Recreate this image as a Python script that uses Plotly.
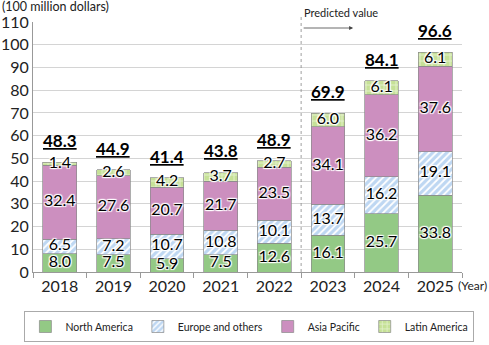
import plotly.graph_objects as go
import numpy as np

years = ["2018", "2019", "2020", "2021", "2022", "2023", "2024", "2025"]
north_america = [8.0, 7.5, 5.9, 7.5, 12.6, 16.1, 25.7, 33.8]
europe_others = [6.5, 7.2, 10.7, 10.8, 10.1, 13.7, 16.2, 19.1]
asia_pacific = [32.4, 27.6, 20.7, 21.7, 23.5, 34.1, 36.2, 37.6]
latin_america = [1.4, 2.6, 4.2, 3.7, 2.7, 6.0, 6.1, 6.1]
totals = [48.3, 44.9, 41.4, 43.8, 48.9, 69.9, 84.1, 96.6]

FONT = "Lato"
series = [
    ("North America", north_america, dict(color="#93c985")),
    ("Europe and others", europe_others,
     dict(color="white", pattern=dict(shape="/", fgcolor="#7dafe6", bgcolor="white", size=5, solidity=0.65))),
    ("Asia Pacific", asia_pacific, dict(color="#cc8fbf")),
    ("Latin America", latin_america,
     dict(color="#c6e197", pattern=dict(shape="+", fgcolor="white", bgcolor="#c6e197", size=6, solidity=0.3))),
]

fig = go.Figure()
for name, vals, mk in series:
    mk = dict(mk)
    mk["line"] = dict(color="#8a8a8a", width=0.7)
    fig.add_trace(go.Bar(x=years, y=vals, name=name, marker=mk, hoverinfo="skip"))

# segment labels at midpoints
base = np.zeros(len(years))
shadow = "1px 1px 1px white, -1px -1px 1px white, 1px -1px 1px white, -1px 1px 1px white, 0 0 2px white"
for name, vals, mk in series:
    v = np.array(vals)
    mid = base + v / 2
    fig.add_trace(go.Scatter(
        x=years, y=mid, mode="text", text=[f"{x:.1f}" for x in vals],
        textposition="middle center",
        textfont=dict(family=FONT, size=16, color="black", shadow=shadow),
        showlegend=False, hoverinfo="skip"))
    base = base + v

for i, t in enumerate(totals):
    fig.add_annotation(x=i, y=t, xref="x", yref="y", text=f"{t:.1f}", showarrow=False,
                       yanchor="bottom", yshift=9,
                       font=dict(family=FONT, size=17, color="black", weight="bold",
                                 lineposition="under"))

fig.add_shape(type="line", xref="x", yref="paper", x0=4.5, x1=4.5, y0=0, y1=1.028,
              line=dict(color="#888", width=0.8, dash="3px,3px"))
fig.add_annotation(xref="x", yref="paper", x=5.47, y=0.976, ax=-51, ay=0,
                   axref="pixel", ayref="pixel", text="", showarrow=True,
                   arrowhead=2, arrowsize=1, arrowwidth=0.8, arrowcolor="#444")
fig.add_annotation(xref="x", yref="paper", x=4.5, y=1.036, xanchor="left", yanchor="middle",
                   xshift=1, text="Predicted value", showarrow=False,
                   font=dict(family=FONT, size=11, color="#222"))
fig.add_annotation(xref="paper", yref="paper", x=-0.077, y=1.062, xanchor="left", yanchor="middle",
                   text="(100 million dollars)", showarrow=False,
                   font=dict(family=FONT, size=12.5, color="#222"))
fig.add_annotation(xref="paper", yref="paper", x=0.986, y=-0.052, xanchor="left", yanchor="middle",
                   text="(Year)", showarrow=False,
                   font=dict(family=FONT, size=12, color="#222"))

fig.update_layout(
    barmode="stack", bargap=0.37,
    width=489, height=345,
    margin=dict(l=33, r=27, t=22, b=73, autoexpand=False),
    paper_bgcolor="white", plot_bgcolor="white",
    font=dict(family=FONT, size=14, color="#222"),
    legend=dict(orientation="h", x=-0.02, xanchor="left",
                y=-0.156, yanchor="top",
                bordercolor="#aaa", borderwidth=1, font=dict(size=10.5),
                itemwidth=30, traceorder="normal"),
    xaxis=dict(type="category", range=[-0.5, 7.5], showline=True, linecolor="#999",
               ticks="outside", tickson="boundaries", ticklen=5, tickcolor="#999",
               tickfont=dict(size=16)),
    yaxis=dict(range=[0, 110], dtick=10, showgrid=True, gridcolor="#d4d4d4",
               showline=True, linecolor="#999", tickfont=dict(size=16), zeroline=False),
)

fig.write_html("out.html")
